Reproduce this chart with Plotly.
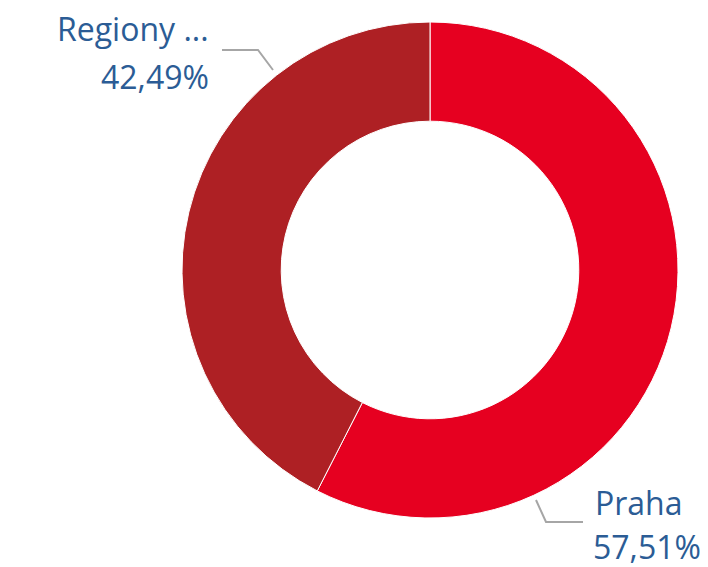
import plotly.graph_objects as go

labels = ["Praha", "Regiony ..."]
values = [57.51, 42.49]
colors = ["#E60020", "#AE2024"]
label_texts = [["Praha", "57,51%"], ["Regiony ...", "42,49%"]]

W, H = 708, 567
OFF = 8  # page body margin offset
cx, cy, R = 430, 270, 248

def px(x):
    return (x - OFF) / W

def py(y):
    return 1 - (y - OFF) / H

fig = go.Figure()
fig.add_trace(go.Pie(
    labels=labels,
    values=values,
    hole=0.6,
    sort=False,
    direction="clockwise",
    rotation=0,
    marker=dict(colors=colors, line=dict(color="white", width=1)),
    textinfo="none",
    hoverinfo="label+percent",
    showlegend=False,
    domain=dict(x=[px(cx - R), px(cx + R)], y=[py(cy + R), py(cy - R)]),
))

text_color = "#2B5C95"
font = dict(family="Open Sans", size=32, color=text_color)

# Praha label (bottom right, left-aligned)
fig.add_annotation(x=px(594), y=py(502), xref="paper", yref="paper", text=label_texts[0][0],
                   showarrow=False, xanchor="left", yanchor="middle", font=font, borderpad=0)
fig.add_annotation(x=px(592), y=py(546), xref="paper", yref="paper", text=label_texts[0][1],
                   showarrow=False, xanchor="left", yanchor="middle", font=font, borderpad=0)
# Regiony label (top left, right-aligned)
fig.add_annotation(x=px(210), y=py(29), xref="paper", yref="paper", text=label_texts[1][0],
                   showarrow=False, xanchor="right", yanchor="middle", font=font, borderpad=0)
fig.add_annotation(x=px(210), y=py(77), xref="paper", yref="paper", text=label_texts[1][1],
                   showarrow=False, xanchor="right", yanchor="middle", font=font, borderpad=0)

line_style = dict(color="#A6A6A6", width=2)
# leader lines
fig.add_shape(type="path", xref="paper", yref="paper",
              path=f"M {px(536)} {py(500)} L {px(546)} {py(522)} L {px(583)} {py(522)}",
              line=line_style)
fig.add_shape(type="path", xref="paper", yref="paper",
              path=f"M {px(273)} {py(70)} L {px(258)} {py(50)} L {px(222)} {py(50)}",
              line=line_style)

fig.update_layout(
    width=W, height=H,
    margin=dict(l=0, r=0, t=0, b=0),
    paper_bgcolor="white",
    plot_bgcolor="white",
)

fig.write_html("out.html")
